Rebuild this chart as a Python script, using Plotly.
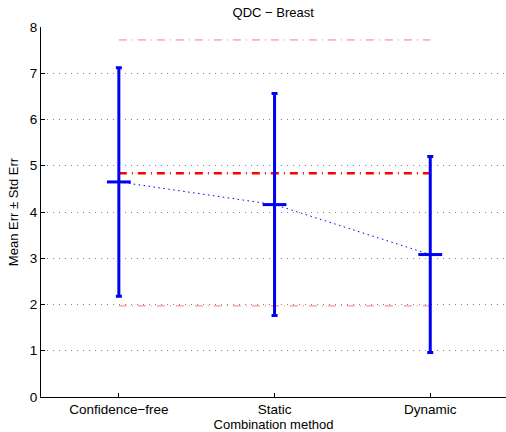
import plotly.graph_objects as go

# Combination methods and their error statistics
methods = ["Confidence\u2212free", "Static", "Dynamic"]
mean_err = [4.65, 4.16, 3.08]
std_err = [2.47, 2.40, 2.12]

# Baseline (single classifier) mean and its ± band
baseline_mean = 4.84
baseline_upper = 7.72
baseline_lower = 1.97

xpos = [1, 2, 3]
family = "Liberation Sans, Arial, sans-serif"
tick_font = dict(family=family, size=13.5, color="black")
label_font = dict(family=family, size=13, color="black")

fig = go.Figure()

# Baseline band (thin) and mean (thick), dash-dot red
for yv, w, col in [(baseline_upper, 1, "rgb(255,120,120)"),
                   (baseline_lower, 1, "rgb(255,120,120)"),
                   (baseline_mean, 2.5, "rgb(255,0,0)")]:
    fig.add_trace(go.Scatter(
        x=[xpos[0], xpos[-1]], y=[yv, yv], mode="lines",
        line=dict(color=col, width=w, dash="8px,5px,1px,5px"),
        showlegend=False, hoverinfo="skip"))

# Dotted line joining the means
fig.add_trace(go.Scatter(
    x=xpos, y=mean_err, mode="lines",
    line=dict(color="rgb(0,0,255)", width=1, dash="1.5px,3.5px"),
    showlegend=False))

# Error bars with mean ticks
fig.add_trace(go.Scatter(
    x=xpos, y=mean_err, mode="markers",
    marker=dict(symbol="line-ew", size=17,
                line=dict(color="rgb(0,0,245)", width=3)),
    error_y=dict(type="data", array=std_err, visible=True,
                 color="rgb(0,0,245)", thickness=3, width=3),
    showlegend=False))

fig.update_layout(
    width=506, height=432,
    margin=dict(l=41, r=0, t=27, b=35),
    plot_bgcolor="white", paper_bgcolor="white",
    font=label_font,
    title=dict(text="QDC \u2212 Breast", x=0.54, xanchor="center",
               y=1 - 12 / 432, yanchor="middle",
               font=dict(family=family, size=13, color="black")),
)

fig.update_xaxes(
    range=[0.5, 0.5 + 465 / 155.7],
    tickvals=xpos, ticktext=methods,
    ticks="inside", ticklen=4, tickcolor="black",
    showline=True, linecolor="black", linewidth=1,
    showgrid=False, zeroline=False,
    title=dict(text="Combination method", standoff=0, font=label_font),
    tickfont=tick_font,
)

fig.update_yaxes(
    range=[0, 8], dtick=1,
    ticks="inside", ticklen=4, tickcolor="black",
    showline=True, linecolor="black", linewidth=1,
    showgrid=True, gridcolor="rgb(130,130,130)", gridwidth=1,
    griddash="1px,5px", zeroline=False,
    title=dict(text="Mean Err \u00b1 Std Err", standoff=8, font=label_font),
    tickfont=tick_font,
)

fig.write_html("out.html")
